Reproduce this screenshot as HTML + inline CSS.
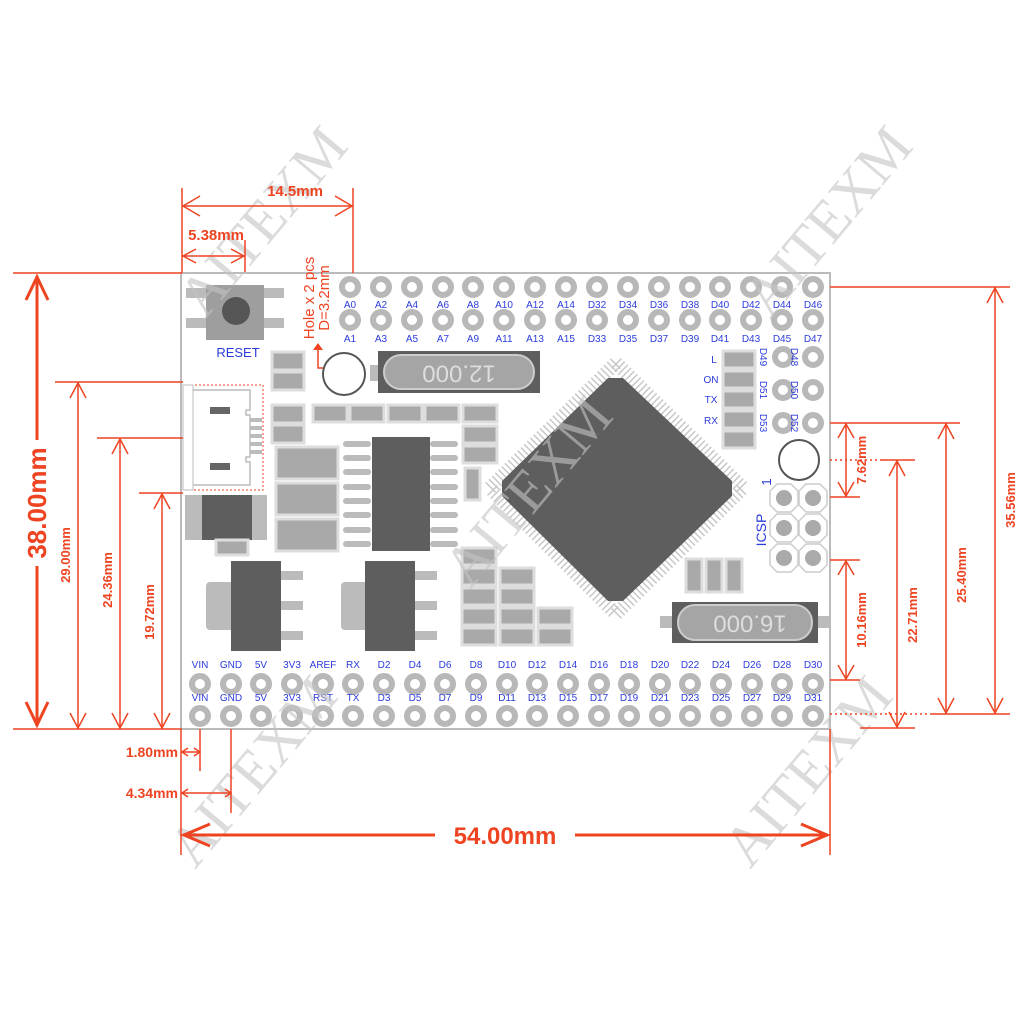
<!DOCTYPE html>
<html><head><meta charset="utf-8"><style>
html,body{margin:0;padding:0;background:#fff;}
svg{display:block;}
.r{stroke:#ee4422;fill:none;}
.lbl{font-family:"Liberation Sans",sans-serif;fill:#2b3bdc;font-size:11px;text-anchor:middle;}
.dim{font-family:"Liberation Sans",sans-serif;fill:#ee4422;font-weight:bold;}
.pin{fill:#fff;stroke:#b8b8b8;stroke-width:6;}
.pad{fill:#a9a9a9;stroke:#ddd;stroke-width:3;}
.wm{font-family:"Liberation Serif",serif;fill:#c4c4c4;font-size:58px;opacity:0.6;}
</style></head><body>
<svg width="1024" height="1024" viewBox="0 0 1024 1024" xmlns="http://www.w3.org/2000/svg">
<rect x="181" y="273" width="649" height="456" fill="#fff" stroke="#bbb" stroke-width="2"/>

<rect x="186" y="288" width="24" height="10" fill="#bbb"/><rect x="186" y="318" width="24" height="10" fill="#bbb"/>
<rect x="260" y="288" width="24" height="10" fill="#bbb"/><rect x="260" y="318" width="24" height="10" fill="#bbb"/>
<rect x="206" y="285" width="58" height="55" fill="#9e9e9e"/>
<circle cx="236" cy="311" r="14" fill="#555"/>
<text x="238" y="357" class="lbl" style="font-size:13px">RESET</text>

<rect x="272" y="352" width="32" height="18" class="pad"/><rect x="272" y="372" width="32" height="18" class="pad"/>
<rect x="272" y="405" width="32" height="18" class="pad"/><rect x="272" y="425" width="32" height="18" class="pad"/>
<rect x="313" y="405" width="34" height="17" class="pad"/><rect x="350" y="405" width="34" height="17" class="pad"/>
<rect x="388" y="405" width="34" height="17" class="pad"/><rect x="425" y="405" width="34" height="17" class="pad"/>
<rect x="463" y="405" width="34" height="17" class="pad"/><rect x="463" y="426" width="34" height="17" class="pad"/>
<rect x="463" y="446" width="34" height="17" class="pad"/><rect x="465" y="468" width="15" height="32" class="pad"/>

<rect x="183" y="385" width="80" height="105" fill="none" stroke="#ee4422" stroke-width="1" stroke-dasharray="2,2"/>
<rect x="183" y="385" width="10" height="105" fill="none" stroke="#bbb"/>
<path d="M193 390 H250 V410 H246 V415 H250 V457 H246 V462 H250 V485 H193" fill="none" stroke="#bbb" stroke-width="1.5"/>
<rect x="210" y="407" width="20" height="7" fill="#666"/><rect x="210" y="463" width="20" height="7" fill="#666"/>
<g fill="#bbb"><rect x="250" y="418" width="12" height="4"/><rect x="250" y="426" width="12" height="4"/><rect x="250" y="434" width="12" height="4"/><rect x="250" y="442" width="12" height="4"/><rect x="250" y="450" width="12" height="4"/></g>

<rect x="185" y="495" width="82" height="45" fill="#bbb"/>
<rect x="202" y="495" width="50" height="45" fill="#5e5e5e"/>
<rect x="216" y="540" width="32" height="15" class="pad"/>

<rect x="276" y="447" width="62" height="32" class="pad"/>
<rect x="276" y="483" width="62" height="32" class="pad"/>
<rect x="276" y="519" width="62" height="32" class="pad"/>

<g fill="#bbb">
<rect x="343" y="441" width="28" height="6" rx="3"/><rect x="343" y="455" width="28" height="6" rx="3"/><rect x="343" y="469" width="28" height="6" rx="3"/><rect x="343" y="484" width="28" height="6" rx="3"/><rect x="343" y="498" width="28" height="6" rx="3"/><rect x="343" y="512" width="28" height="6" rx="3"/><rect x="343" y="527" width="28" height="6" rx="3"/><rect x="343" y="541" width="28" height="6" rx="3"/>
<rect x="430" y="441" width="28" height="6" rx="3"/><rect x="430" y="455" width="28" height="6" rx="3"/><rect x="430" y="469" width="28" height="6" rx="3"/><rect x="430" y="484" width="28" height="6" rx="3"/><rect x="430" y="498" width="28" height="6" rx="3"/><rect x="430" y="512" width="28" height="6" rx="3"/><rect x="430" y="527" width="28" height="6" rx="3"/><rect x="430" y="541" width="28" height="6" rx="3"/>
</g>
<rect x="372" y="437" width="58" height="114" fill="#5e5e5e"/>

<rect x="206" y="582" width="30" height="48" rx="4" fill="#bbb"/>
<rect x="231" y="561" width="50" height="90" fill="#5e5e5e"/>
<g fill="#bbb"><rect x="281" y="571" width="22" height="9"/><rect x="281" y="601" width="22" height="9"/><rect x="281" y="631" width="22" height="9"/></g>
<rect x="341" y="582" width="30" height="48" rx="4" fill="#bbb"/>
<rect x="365" y="561" width="50" height="90" fill="#5e5e5e"/>
<g fill="#bbb"><rect x="415" y="571" width="22" height="9"/><rect x="415" y="601" width="22" height="9"/><rect x="415" y="631" width="22" height="9"/></g>

<rect x="462" y="548" width="34" height="17" class="pad"/>
<rect x="462" y="568" width="34" height="17" class="pad"/><rect x="500" y="568" width="34" height="17" class="pad"/>
<rect x="462" y="588" width="34" height="17" class="pad"/><rect x="500" y="588" width="34" height="17" class="pad"/>
<rect x="462" y="608" width="34" height="17" class="pad"/><rect x="500" y="608" width="34" height="17" class="pad"/><rect x="538" y="608" width="34" height="17" class="pad"/>
<rect x="462" y="628" width="34" height="17" class="pad"/><rect x="500" y="628" width="34" height="17" class="pad"/><rect x="538" y="628" width="34" height="17" class="pad"/>

<rect x="370" y="365" width="12" height="16" fill="#bbb"/>
<rect x="378" y="351" width="162" height="42" fill="#5e5e5e"/>
<rect x="384" y="355" width="150" height="34" rx="17" fill="#a5a5a5" stroke="#ccc" stroke-width="2"/>
<text x="459" y="372" transform="rotate(180 459 372)" font-family="Liberation Sans,sans-serif" font-size="24" fill="#ddd" text-anchor="middle" dominant-baseline="middle">12.000</text>
<circle cx="344" cy="374" r="21" fill="#fff" stroke="#555" stroke-width="2"/>

<rect x="660" y="616" width="14" height="12" fill="#bbb"/><rect x="816" y="616" width="14" height="12" fill="#bbb"/>
<rect x="672" y="602" width="146" height="41" fill="#5e5e5e"/>
<rect x="678" y="605" width="134" height="35" rx="17" fill="#a5a5a5" stroke="#ccc" stroke-width="2"/>
<text x="750" y="622" transform="rotate(180 750 622)" font-family="Liberation Sans,sans-serif" font-size="24" fill="#ddd" text-anchor="middle" dominant-baseline="middle">16.000</text>

<rect x="686" y="559" width="16" height="33" class="pad"/><rect x="706" y="559" width="16" height="33" class="pad"/><rect x="726" y="559" width="16" height="33" class="pad"/>

<polygon points="616,363 743,488 616,614 490,488" fill="none" stroke="#c8c8c8" stroke-width="14" stroke-dasharray="1.5,3"/>
<polygon points="608,378 623,378 732,481 732,496 623,601 608,601 502,496 502,481" fill="#5e5e5e"/>

<rect x="723" y="351" width="32" height="17" class="pad"/><rect x="723" y="371" width="32" height="17" class="pad"/>
<rect x="723" y="391" width="32" height="17" class="pad"/><rect x="723" y="411" width="32" height="17" class="pad"/>
<rect x="723" y="431" width="32" height="17" class="pad"/>
<text x="714" y="363" class="lbl" style="font-size:10px">L</text>
<text x="711" y="383" class="lbl" style="font-size:10px">ON</text>
<text x="711" y="403" class="lbl" style="font-size:10px">TX</text>
<text x="711" y="424" class="lbl" style="font-size:10px">RX</text>

<circle cx="783" cy="357" r="8" class="pin"/><circle cx="813" cy="357" r="8" class="pin"/>
<circle cx="783" cy="390" r="8" class="pin"/><circle cx="813" cy="390" r="8" class="pin"/>
<circle cx="783" cy="423" r="8" class="pin"/><circle cx="813" cy="423" r="8" class="pin"/>
<g class="lbl" style="font-size:10px">
<text transform="translate(764,357) rotate(90)" y="4">D49</text><text transform="translate(795,357) rotate(90)" y="4">D48</text>
<text transform="translate(764,390) rotate(90)" y="4">D51</text><text transform="translate(795,390) rotate(90)" y="4">D50</text>
<text transform="translate(764,423) rotate(90)" y="4">D53</text><text transform="translate(795,423) rotate(90)" y="4">D52</text>
</g>
<circle cx="799" cy="460" r="20" fill="#fff" stroke="#555" stroke-width="2"/>

<g fill="#fff" stroke="#ccc" stroke-width="1.5">
<polygon points="777,484 791,484 798,491 798,505 791,512 777,512 770,505 770,491"/>
<polygon points="806,484 820,484 827,491 827,505 820,512 806,512 799,505 799,491"/>
<polygon points="777,514 791,514 798,521 798,535 791,542 777,542 770,535 770,521"/>
<polygon points="806,514 820,514 827,521 827,535 820,542 806,542 799,535 799,521"/>
<polygon points="777,544 791,544 798,551 798,565 791,572 777,572 770,565 770,551"/>
<polygon points="806,544 820,544 827,551 827,565 820,572 806,572 799,565 799,551"/>
</g>
<g fill="#aaa"><circle cx="784" cy="498" r="8"/><circle cx="813" cy="498" r="8"/><circle cx="784" cy="528" r="8"/><circle cx="813" cy="528" r="8"/><circle cx="784" cy="558" r="8"/><circle cx="813" cy="558" r="8"/></g>
<text transform="translate(766,530) rotate(-90)" class="lbl" style="font-size:14px" y="0">ICSP</text>
<text transform="translate(771,482) rotate(-90)" class="lbl" style="font-size:13px" y="0">1</text>

<g>
<circle cx="350" cy="287" r="8" class="pin"/><circle cx="381" cy="287" r="8" class="pin"/><circle cx="412" cy="287" r="8" class="pin"/><circle cx="443" cy="287" r="8" class="pin"/><circle cx="473" cy="287" r="8" class="pin"/><circle cx="504" cy="287" r="8" class="pin"/><circle cx="535" cy="287" r="8" class="pin"/><circle cx="566" cy="287" r="8" class="pin"/><circle cx="597" cy="287" r="8" class="pin"/><circle cx="628" cy="287" r="8" class="pin"/><circle cx="659" cy="287" r="8" class="pin"/><circle cx="690" cy="287" r="8" class="pin"/><circle cx="720" cy="287" r="8" class="pin"/><circle cx="751" cy="287" r="8" class="pin"/><circle cx="782" cy="287" r="8" class="pin"/><circle cx="813" cy="287" r="8" class="pin"/>
<circle cx="350" cy="320" r="8" class="pin"/><circle cx="381" cy="320" r="8" class="pin"/><circle cx="412" cy="320" r="8" class="pin"/><circle cx="443" cy="320" r="8" class="pin"/><circle cx="473" cy="320" r="8" class="pin"/><circle cx="504" cy="320" r="8" class="pin"/><circle cx="535" cy="320" r="8" class="pin"/><circle cx="566" cy="320" r="8" class="pin"/><circle cx="597" cy="320" r="8" class="pin"/><circle cx="628" cy="320" r="8" class="pin"/><circle cx="659" cy="320" r="8" class="pin"/><circle cx="690" cy="320" r="8" class="pin"/><circle cx="720" cy="320" r="8" class="pin"/><circle cx="751" cy="320" r="8" class="pin"/><circle cx="782" cy="320" r="8" class="pin"/><circle cx="813" cy="320" r="8" class="pin"/>
</g>
<g class="lbl" style="font-size:10px">
<text x="350" y="308">A0</text><text x="381" y="308">A2</text><text x="412" y="308">A4</text><text x="443" y="308">A6</text><text x="473" y="308">A8</text><text x="504" y="308">A10</text><text x="535" y="308">A12</text><text x="566" y="308">A14</text><text x="597" y="308">D32</text><text x="628" y="308">D34</text><text x="659" y="308">D36</text><text x="690" y="308">D38</text><text x="720" y="308">D40</text><text x="751" y="308">D42</text><text x="782" y="308">D44</text><text x="813" y="308">D46</text>
<text x="350" y="342">A1</text><text x="381" y="342">A3</text><text x="412" y="342">A5</text><text x="443" y="342">A7</text><text x="473" y="342">A9</text><text x="504" y="342">A11</text><text x="535" y="342">A13</text><text x="566" y="342">A15</text><text x="597" y="342">D33</text><text x="628" y="342">D35</text><text x="659" y="342">D37</text><text x="690" y="342">D39</text><text x="720" y="342">D41</text><text x="751" y="342">D43</text><text x="782" y="342">D45</text><text x="813" y="342">D47</text>
</g>

<g>
<circle cx="200" cy="684" r="8" class="pin"/><circle cx="231" cy="684" r="8" class="pin"/><circle cx="261" cy="684" r="8" class="pin"/><circle cx="292" cy="684" r="8" class="pin"/><circle cx="323" cy="684" r="8" class="pin"/><circle cx="353" cy="684" r="8" class="pin"/><circle cx="384" cy="684" r="8" class="pin"/><circle cx="415" cy="684" r="8" class="pin"/><circle cx="445" cy="684" r="8" class="pin"/><circle cx="476" cy="684" r="8" class="pin"/><circle cx="507" cy="684" r="8" class="pin"/><circle cx="537" cy="684" r="8" class="pin"/><circle cx="568" cy="684" r="8" class="pin"/><circle cx="599" cy="684" r="8" class="pin"/><circle cx="629" cy="684" r="8" class="pin"/><circle cx="660" cy="684" r="8" class="pin"/><circle cx="690" cy="684" r="8" class="pin"/><circle cx="721" cy="684" r="8" class="pin"/><circle cx="752" cy="684" r="8" class="pin"/><circle cx="782" cy="684" r="8" class="pin"/><circle cx="813" cy="684" r="8" class="pin"/>
<circle cx="200" cy="716" r="8" class="pin"/><circle cx="231" cy="716" r="8" class="pin"/><circle cx="261" cy="716" r="8" class="pin"/><circle cx="292" cy="716" r="8" class="pin"/><circle cx="323" cy="716" r="8" class="pin"/><circle cx="353" cy="716" r="8" class="pin"/><circle cx="384" cy="716" r="8" class="pin"/><circle cx="415" cy="716" r="8" class="pin"/><circle cx="445" cy="716" r="8" class="pin"/><circle cx="476" cy="716" r="8" class="pin"/><circle cx="507" cy="716" r="8" class="pin"/><circle cx="537" cy="716" r="8" class="pin"/><circle cx="568" cy="716" r="8" class="pin"/><circle cx="599" cy="716" r="8" class="pin"/><circle cx="629" cy="716" r="8" class="pin"/><circle cx="660" cy="716" r="8" class="pin"/><circle cx="690" cy="716" r="8" class="pin"/><circle cx="721" cy="716" r="8" class="pin"/><circle cx="752" cy="716" r="8" class="pin"/><circle cx="782" cy="716" r="8" class="pin"/><circle cx="813" cy="716" r="8" class="pin"/>
</g>
<g class="lbl" style="font-size:10px">
<text x="200" y="668">VIN</text><text x="231" y="668">GND</text><text x="261" y="668">5V</text><text x="292" y="668">3V3</text><text x="323" y="668">AREF</text><text x="353" y="668">RX</text><text x="384" y="668">D2</text><text x="415" y="668">D4</text><text x="445" y="668">D6</text><text x="476" y="668">D8</text><text x="507" y="668">D10</text><text x="537" y="668">D12</text><text x="568" y="668">D14</text><text x="599" y="668">D16</text><text x="629" y="668">D18</text><text x="660" y="668">D20</text><text x="690" y="668">D22</text><text x="721" y="668">D24</text><text x="752" y="668">D26</text><text x="782" y="668">D28</text><text x="813" y="668">D30</text>
<text x="200" y="701">VIN</text><text x="231" y="701">GND</text><text x="261" y="701">5V</text><text x="292" y="701">3V3</text><text x="323" y="701">RST</text><text x="353" y="701">TX</text><text x="384" y="701">D3</text><text x="415" y="701">D5</text><text x="445" y="701">D7</text><text x="476" y="701">D9</text><text x="507" y="701">D11</text><text x="537" y="701">D13</text><text x="568" y="701">D15</text><text x="599" y="701">D17</text><text x="629" y="701">D19</text><text x="660" y="701">D21</text><text x="690" y="701">D23</text><text x="721" y="701">D25</text><text x="752" y="701">D27</text><text x="782" y="701">D29</text><text x="813" y="701">D31</text>
</g>

<text class="wm" transform="translate(205,320) rotate(-50)">AITEXM</text>
<text class="wm" transform="translate(470,590) rotate(-50)">AITEXM</text>
<text class="wm" transform="translate(770,320) rotate(-50)">AITEXM</text>
<text class="wm" transform="translate(195,870) rotate(-50)">AITEXM</text>
<text class="wm" transform="translate(750,870) rotate(-50)">AITEXM</text>

<g class="r" stroke-width="1.5">
<line x1="182" y1="188" x2="182" y2="273"/><line x1="353" y1="188" x2="353" y2="273"/><line x1="245" y1="240" x2="245" y2="272"/>
<line x1="182" y1="206" x2="353" y2="206"/><path d="M200 196 L183 206 L200 216 M335 196 L352 206 L335 216"/>
<line x1="182" y1="256" x2="245" y2="256"/><path d="M196 249 L183 256 L196 263 M231 249 L244 256 L231 263"/>
<path d="M323 368 H318 V346"/>
<line x1="13" y1="273" x2="182" y2="273"/><line x1="13" y1="729" x2="182" y2="729"/>
<line x1="55" y1="382" x2="183" y2="382"/><line x1="97" y1="438" x2="183" y2="438"/><line x1="139" y1="493" x2="183" y2="493"/>
<line x1="78" y1="382" x2="78" y2="729"/><path d="M70 398 L78 383 L86 398 M70 713 L78 728 L86 713"/>
<line x1="120" y1="438" x2="120" y2="729"/><path d="M112 454 L120 439 L128 454 M112 713 L120 728 L128 713"/>
<line x1="162" y1="493" x2="162" y2="729"/><path d="M154 509 L162 494 L170 509 M154 713 L162 728 L170 713"/>
<line x1="181" y1="729" x2="181" y2="855"/><line x1="830" y1="729" x2="830" y2="855"/>
<line x1="200" y1="729" x2="200" y2="771"/><line x1="231" y1="729" x2="231" y2="813"/>
<line x1="181" y1="752" x2="200" y2="752"/><path d="M188 748 L182 752 L188 756 M194 748 L200 752 L194 756"/>
<line x1="181" y1="793" x2="231" y2="793"/><path d="M188 789 L182 793 L188 797 M225 789 L231 793 L225 797"/>
<line x1="830" y1="287" x2="1010" y2="287"/><line x1="830" y1="423" x2="960" y2="423"/>
<line x1="830" y1="497" x2="860" y2="497"/><line x1="880" y1="460" x2="915" y2="460"/>
<line x1="830" y1="560" x2="860" y2="560"/><line x1="830" y1="680" x2="860" y2="680"/>
<line x1="930" y1="714" x2="1010" y2="714"/><line x1="860" y1="728" x2="915" y2="728"/>
<line x1="830" y1="460" x2="880" y2="460" stroke-dasharray="2,3"/><line x1="830" y1="714" x2="930" y2="714" stroke-dasharray="2,3"/>
<line x1="846" y1="423" x2="846" y2="497"/><path d="M838 438 L846 424 L854 438 M838 482 L846 496 L854 482"/>
<line x1="846" y1="560" x2="846" y2="680"/><path d="M838 575 L846 561 L854 575 M838 665 L846 679 L854 665"/>
<line x1="897" y1="460" x2="897" y2="728"/><path d="M889 476 L897 461 L905 476 M889 712 L897 727 L905 712"/>
<line x1="946" y1="423" x2="946" y2="714"/><path d="M938 439 L946 424 L954 439 M938 698 L946 713 L954 698"/>
<line x1="995" y1="287" x2="995" y2="714"/><path d="M987 303 L995 288 L1003 303 M987 698 L995 713 L1003 698"/>
</g>
<path d="M313 350 L318 343 L323 350 Z" fill="#ee4422"/>
<g class="r" stroke-width="3">
<line x1="37" y1="276" x2="37" y2="726"/><path d="M26 300 L37 277 L48 300 M26 702 L37 725 L48 702"/>
<line x1="183" y1="835" x2="828" y2="835"/><path d="M210 824 L184 835 L210 846 M801 824 L827 835 L801 846"/>
</g>
<rect x="26" y="440" width="22" height="126" fill="#fff"/>
<rect x="435" y="822" width="140" height="26" fill="#fff"/>
<g class="dim">
<text x="295" y="196" font-size="15" text-anchor="middle">14.5mm</text>
<text x="216" y="240" font-size="15" text-anchor="middle">5.38mm</text>
<text x="505" y="844" font-size="24" text-anchor="middle">54.00mm</text>
<text x="178" y="757" font-size="14" text-anchor="end">1.80mm</text>
<text x="178" y="798" font-size="14" text-anchor="end">4.34mm</text>
<text transform="translate(46,503) rotate(-90)" font-size="26" text-anchor="middle">38.00mm</text>
<text transform="translate(70,555) rotate(-90)" font-size="13" text-anchor="middle">29.00mm</text>
<text transform="translate(112,580) rotate(-90)" font-size="13" text-anchor="middle">24.36mm</text>
<text transform="translate(154,612) rotate(-90)" font-size="13" text-anchor="middle">19.72mm</text>
<text transform="translate(866,460) rotate(-90)" font-size="13" text-anchor="middle">7.62mm</text>
<text transform="translate(866,620) rotate(-90)" font-size="13" text-anchor="middle">10.16mm</text>
<text transform="translate(917,615) rotate(-90)" font-size="13" text-anchor="middle">22.71mm</text>
<text transform="translate(966,575) rotate(-90)" font-size="13" text-anchor="middle">25.40mm</text>
<text transform="translate(1015,500) rotate(-90)" font-size="13" text-anchor="middle">35.56mm</text>
<text transform="translate(314,298) rotate(-90)" font-size="15" font-weight="normal" text-anchor="middle">Hole x 2 pcs</text>
<text transform="translate(329,298) rotate(-90)" font-size="15" font-weight="normal" text-anchor="middle">D=3.2mm</text>
</g>
</svg>
</body></html>
